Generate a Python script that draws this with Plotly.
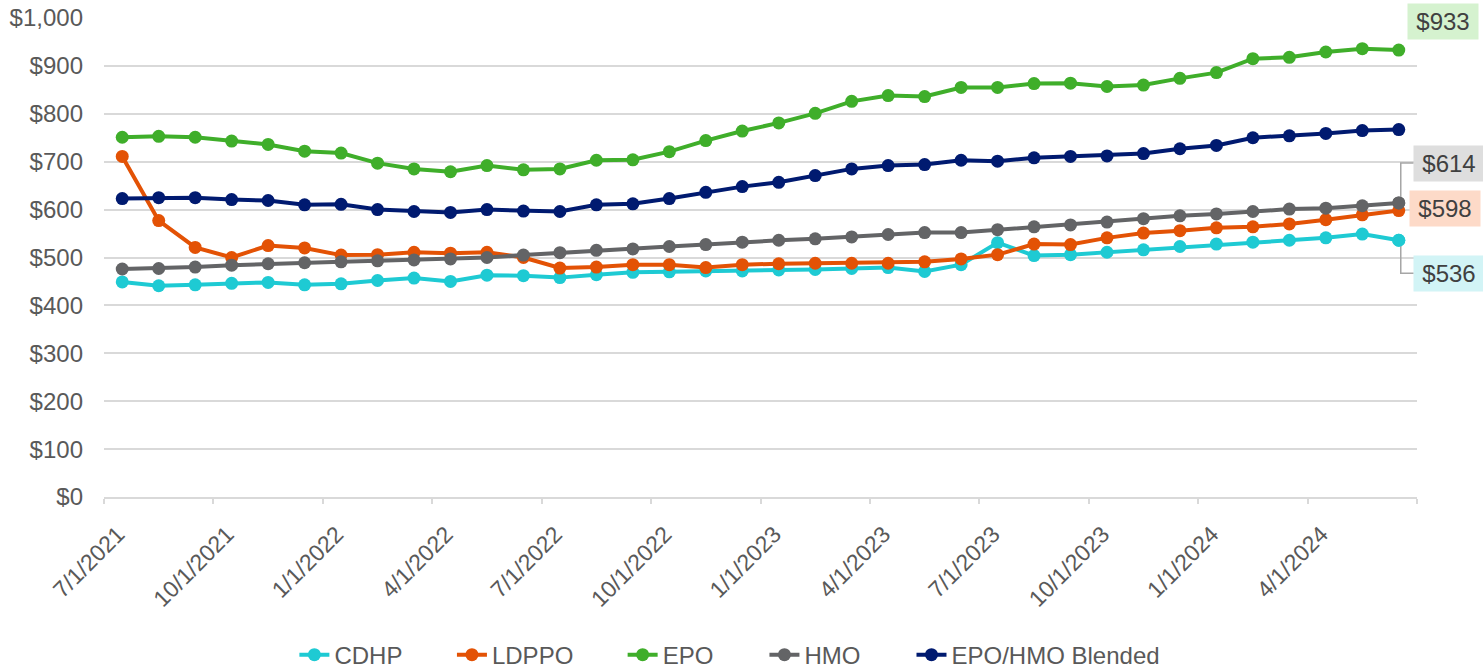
import plotly.graph_objects as go

# Monthly premium by plan, Jul 2021 - Jun 2024
months = [
    "2021-07", "2021-08", "2021-09", "2021-10", "2021-11", "2021-12",
    "2022-01", "2022-02", "2022-03", "2022-04", "2022-05", "2022-06",
    "2022-07", "2022-08", "2022-09", "2022-10", "2022-11", "2022-12",
    "2023-01", "2023-02", "2023-03", "2023-04", "2023-05", "2023-06",
    "2023-07", "2023-08", "2023-09", "2023-10", "2023-11", "2023-12",
    "2024-01", "2024-02", "2024-03", "2024-04", "2024-05", "2024-06",
]

cdhp = [449, 441, 443, 446, 448, 443, 445, 452, 457, 450, 463, 462,
        458, 464, 469, 470, 472, 472, 474, 475, 477, 479, 471, 485,
        531, 504, 506, 511, 516, 523, 528, 532, 536, 541, 549, 536]
ldppo = [711, 577, 521, 500, 525, 520, 505, 506, 511, 509, 511, 500,
         478, 480, 485, 485, 479, 485, 487, 488, 488, 488, 491, 497,
         506, 528, 527, 541, 551, 556, 562, 564, 570, 579, 589, 598]
epo = [751, 753, 751, 743, 736, 722, 718, 697, 685, 679, 692, 683,
       685, 703, 704, 721, 744, 764, 781, 801, 826, 838, 836, 855,
       855, 863, 864, 857, 860, 874, 886, 915, 918, 929, 936, 933]
hmo = [476, 477, 480, 484, 487, 489, 491, 493, 495, 497, 500, 505,
       510, 515, 518, 523, 527, 532, 536, 539, 543, 548, 552, 552,
       558, 564, 568, 574, 581, 587, 591, 596, 601, 603, 608, 614]
blended = [623, 625, 625, 621, 619, 610, 611, 600, 596, 594, 600, 597,
           596, 610, 612, 623, 636, 648, 657, 671, 685, 692, 694, 703,
           701, 708, 711, 712, 717, 727, 734, 750, 754, 759, 765, 767]

quarter_labels = ["7/1/2021", "10/1/2021", "1/1/2022", "4/1/2022",
                  "7/1/2022", "10/1/2022", "1/1/2023", "4/1/2023",
                  "7/1/2023", "10/1/2023", "1/1/2024", "4/1/2024"]

series = [
    ("CDHP", cdhp, "#1ECAD3"),
    ("LDPPO", ldppo, "#E35205"),
    ("EPO", epo, "#3FAE2A"),
    ("HMO", hmo, "#636466"),
    ("EPO/HMO Blended", blended, "#001A70"),
]
# left edge of each legend entry, as a fraction of the plot width
legend_x = [0.145, 0.265, 0.395, 0.503, 0.615]

FONT = "Liberation Sans, Arial, sans-serif"
TEXT_GREY = "#595959"
GRID = "#D9D9D9"

W, H = 1483, 668
M_L, M_R, M_T, M_B = 104, 66, 18, 171
Y_MAX = 1000
px_per_dollar = (H - M_T - M_B) / Y_MAX
n = len(months)
px_per_month = (W - M_L - M_R) / n

xs = list(range(n))

fig = go.Figure()
legend_layouts = {}
for i, (name, vals, color) in enumerate(series):
    key = "legend" if i == 0 else f"legend{i + 1}"
    fig.add_trace(go.Scatter(
        x=xs, y=vals, name=name, mode="lines+markers",
        line=dict(color=color, width=4),
        marker=dict(color=color, size=13),
        hoverinfo="skip", legend=key,
    ))
    legend_layouts[key] = dict(
        orientation="h", x=legend_x[i], xanchor="left",
        y=-0.33, yanchor="middle", bgcolor="rgba(0,0,0,0)",
        font=dict(family=FONT, size=24, color=TEXT_GREY),
    )

last = n - 1

# elbow leader lines for the stacked end labels (pixel offsets -> data units)
def leader(val, dy_px, color="#A6A6A6"):
    y_end = val + dy_px / px_per_dollar
    x_kink = last + 2 / px_per_month
    x_end = last + 15 / px_per_month
    fig.add_trace(go.Scatter(
        x=[x_kink, x_kink, x_end], y=[val, y_end, y_end], mode="lines",
        line=dict(color=color, width=1.5), showlegend=False,
        hoverinfo="skip", cliponaxis=False,
    ))

leader(hmo[-1], 40)
leader(cdhp[-1], -33)

# re-draw the end markers on top of the leader lines
for name, vals, color in series:
    if name in ("HMO", "CDHP"):
        fig.add_trace(go.Scatter(
            x=[last], y=[vals[-1]], mode="markers", showlegend=False,
            marker=dict(color=color, size=13), hoverinfo="skip",
        ))

end_labels = [
    (epo[-1], "#D5F2CF", 44, 29),
    (hmo[-1], "#DEDEDE", 50, 39),
    (ldppo[-1], "#FDDAC8", 46, 2),
    (cdhp[-1], "#D2F4F6", 50, -33),
]
for val, bg, dx, dy in end_labels:
    fig.add_annotation(
        x=last, y=val, text=f"${val:,.0f}", showarrow=False,
        xshift=dx, yshift=dy, xanchor="center", yanchor="middle",
        bgcolor=bg, width=62, height=27, borderpad=4,
        font=dict(family=FONT, size=24, color="#404040"),
    )

# quarter boundaries carry the tick marks; labels sit a little to the right
boundaries = [-0.5 + 3 * k for k in range(len(quarter_labels) + 1)]
label_pos = [b + 0.38 for b in boundaries[:-1]]

fig.update_layout(
    width=W, height=H, autosize=False,
    margin=dict(l=M_L, r=M_R, t=M_T, b=M_B, pad=0, autoexpand=False),
    paper_bgcolor="white", plot_bgcolor="white",
    font=dict(family=FONT, color=TEXT_GREY, size=24),
    showlegend=True,
    xaxis=dict(
        range=[-0.5, n - 0.5], tickmode="array", tickvals=label_pos,
        ticktext=quarter_labels, tickangle=-45, ticks="outside", ticklen=5,
        tickcolor="rgba(0,0,0,0)", showline=True, linecolor=GRID,
        linewidth=1.5, showgrid=False, zeroline=False, automargin=False,
        ticklabelstandoff=8,
        tickfont=dict(family=FONT, size=23, color=TEXT_GREY),
        minor=dict(tickmode="array", tickvals=boundaries, ticks="outside",
                   ticklen=5, tickwidth=1.5, tickcolor=GRID, showgrid=False),
    ),
    yaxis=dict(
        range=[0, Y_MAX], dtick=100, tick0=0, tickprefix="$",
        tickformat=",", showgrid=True, gridcolor=GRID, gridwidth=1.5,
        zeroline=False, showline=False, ticks="", ticklabelstandoff=20,
        automargin=False,
        tickfont=dict(family=FONT, size=24, color=TEXT_GREY),
    ),
    **legend_layouts,
)

fig.write_html("out.html")
